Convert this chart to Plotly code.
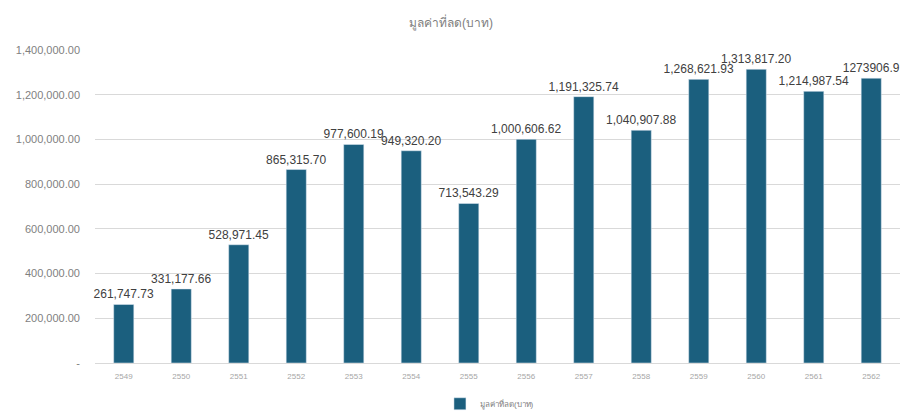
import plotly.graph_objects as go

years = ["2549", "2550", "2551", "2552", "2553", "2554", "2555",
         "2556", "2557", "2558", "2559", "2560", "2561", "2562"]
values = [261747.73, 331177.66, 528971.45, 865315.70, 977600.19, 949320.20,
          713543.29, 1000606.62, 1191325.74, 1040907.88, 1268621.93,
          1313817.20, 1214987.54, 1273906.9]
labels = ["261,747.73", "331,177.66", "528,971.45", "865,315.70", "977,600.19",
          "949,320.20", "713,543.29", "1,000,606.62", "1,191,325.74",
          "1,040,907.88", "1,268,621.93", "1,313,817.20", "1,214,987.54",
          "1273906.9"]
series_name = "มูลค่าที่ลด(บาท)"
title_text = "มูลค่าที่ลด(บาท)"
tick_vals = [0, 200000, 400000, 600000, 800000, 1000000, 1200000, 1400000]
tick_text = ["-", "200,000.00", "400,000.00", "600,000.00", "800,000.00",
             "1,000,000.00", "1,200,000.00", "1,400,000.00"]

fig = go.Figure(go.Bar(
    x=years, y=values, name=series_name,
    marker=dict(color="#1b5f7e"),
    text=labels, textposition="outside", constraintext="none",
    textfont=dict(size=12, color="#404040", family="Liberation Sans, Arial, sans-serif"),
    cliponaxis=False,
))
fig.update_layout(
    width=902, height=412,
    margin=dict(l=95, r=2, t=50, b=49),
    paper_bgcolor="white", plot_bgcolor="white",
    font=dict(family="Liberation Sans, Noto Sans, sans-serif", color="#595959"),
    title=dict(text=title_text, x=0.5, xanchor="center", y=0.955,
               font=dict(size=12, color="#808080")),
    bargap=0.65,
    showlegend=True,
    legend=dict(orientation="h", x=0.49, xanchor="center", y=0.02, yanchor="middle",
                yref="container", font=dict(size=8, color="#808080"),
                itemwidth=30),
    yaxis=dict(range=[0, 1400000], tickvals=tick_vals, ticktext=tick_text,
               gridcolor="#d9d9d9", zeroline=False, showline=False,
               tickfont=dict(size=11, color="#7f7f7f"), ticks="",
               ticklabelstandoff=14),
    xaxis=dict(showline=True, linecolor="#d9d9d9", ticklabelstandoff=5,
               tickfont=dict(size=8, color="#a6a6a6")),
)
fig.write_html("out.html")
